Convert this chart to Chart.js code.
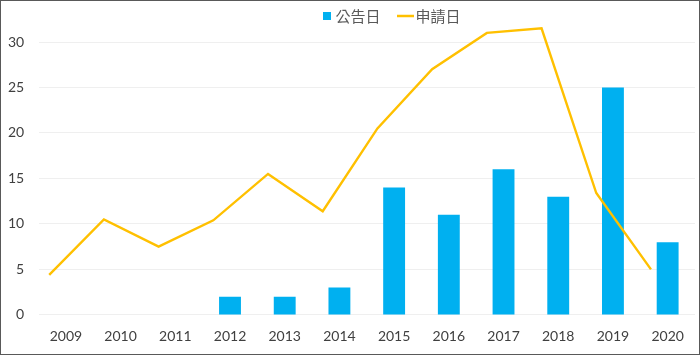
<!DOCTYPE html>
<html><head><meta charset="utf-8">
<script src="https://cdn.jsdelivr.net/npm/chart.js@4"></script>
<style>
html,body{margin:0;padding:0;background:#fff}
#wrap{position:absolute;left:0;top:0;width:700px;height:355px;box-sizing:border-box;border:1px solid #595959;background:#fff}
#c{display:block}
</style></head><body>
<div id="wrap"><canvas id="c" width="698" height="353"></canvas></div>
<script>
const categories = ['2009','2010','2011','2012','2013','2014','2015','2016','2017','2018','2019','2020'];
const announceValues = [null, null, null, 2, 2, 3, 14, 11, 16, 13, 25, 8];
const applyValues = [4.4, 10.5, 7.5, 10.4, 15.5, 11.4, 20.5, 27, 31, 31.5, 13.4, 5];
const yTicks = [0, 5, 10, 15, 20, 25, 30];
const seriesNames = ['公告日', '申請日'];

const BLUE = '#00B0F0', GOLD = '#FFC000';

function marker(kind) {
  const c = document.createElement('canvas');
  c.width = 30; c.height = 12;
  const g = c.getContext('2d');
  if (kind === 'bar') {
    g.fillStyle = BLUE; g.fillRect(15, 2, 8, 8);
  } else {
    g.strokeStyle = GOLD; g.lineWidth = 2.5;
    g.beginPath(); g.moveTo(9, 6); g.lineTo(26, 6); g.stroke();
  }
  return c;
}
const markers = [marker('bar'), marker('line')];

const legendShift = {
  id: 'legendShift',
  afterLayout(chart) {
    const lg = chart.legend;
    if (!lg) return;
    const shift = (776.5 - (lg.left + lg.right)) / 2;
    lg.left += shift; lg.right += shift;
    const h = lg.height;
    lg.top = -10; lg.bottom = lg.top + h;
  }
};

const tickFont = { family: 'Lato', size: 14 };

new Chart(document.getElementById('c'), {
  type: 'bar',
  data: {
    labels: categories,
    datasets: [
      {
        type: 'bar', label: seriesNames[0], data: announceValues,
        backgroundColor: BLUE, borderWidth: 0, grouped: false,
        categoryPercentage: 1, barPercentage: 0.40, order: 2
      },
      {
        type: 'line', label: seriesNames[1],
        data: applyValues.map((v, i) => ({ x: i, y: v })),
        xAxisID: 'x2', borderColor: GOLD, backgroundColor: GOLD,
        borderWidth: 2.4, pointRadius: 0, tension: 0, clip: false, order: 1
      }
    ]
  },
  options: {
    responsive: false, animation: false, devicePixelRatio: 1,
    layout: { padding: { left: 7, right: 4, top: 5, bottom: 9 } },
    plugins: {
      tooltip: { enabled: false },
      legend: {
        position: 'top', maxHeight: 36,
        labels: {
          font: { family: 'Noto Sans CJK TC', size: 15 },
          color: '#595959',
          usePointStyle: true, pointStyleWidth: 10, boxWidth: 10, boxHeight: 10,
          padding: 17.5,
          sort: (a, b) => a.datasetIndex - b.datasetIndex,
          generateLabels(chart) {
            const items = Chart.defaults.plugins.legend.labels.generateLabels(chart);
            items.forEach(it => { it.pointStyle = markers[it.datasetIndex]; });
            return items;
          }
        }
      }
    },
    scales: {
      x: {
        type: 'category', offset: true,
        grid: { display: true, color: 'transparent', tickColor: 'transparent', drawTicks: true, tickLength: 13.3 },
        border: { display: false },
        ticks: { font: tickFont, color: '#404040', padding: 0, maxRotation: 0 }
      },
      x2: {
        type: 'linear', display: false, offset: false, min: -0.195, max: 11.805,
        grid: { offset: false }
      },
      y: {
        min: 0, max: 30,
        afterBuildTicks(axis) { axis.ticks = yTicks.map(v => ({ value: v })); },
        grid: { color: '#efefef', tickColor: 'transparent', drawTicks: true, tickLength: 14.3 },
        border: { display: false },
        ticks: { font: tickFont, color: '#404040', padding: 0 }
      }
    }
  },
  plugins: [legendShift]
});
</script>
</body></html>
